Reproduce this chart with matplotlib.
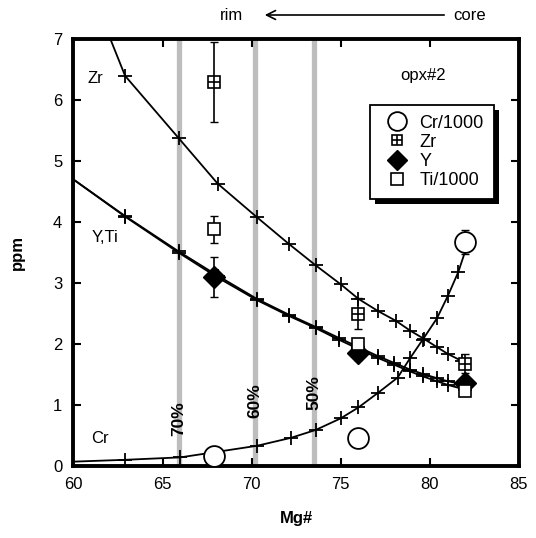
import matplotlib
matplotlib.use("Agg")
import matplotlib.pyplot as plt
from matplotlib.legend_handler import HandlerTuple
from matplotlib.patches import Rectangle

plt.rcParams["font.family"] = ["Liberation Sans", "DejaVu Sans"]

# ---- model curves ----
zr_curve_x = [61.6, 62.9, 65.9, 68.1, 70.3, 72.1, 73.6, 75.0, 76.0, 77.1, 78.1, 78.9, 79.7, 80.4, 81.0, 81.8]
zr_curve_y = [7.35, 6.40, 5.38, 4.63, 4.08, 3.64, 3.29, 2.98, 2.74, 2.54, 2.38, 2.22, 2.08, 1.95, 1.84, 1.72]

y_curve_x = [60.0, 62.9, 65.9, 68.1, 70.3, 72.1, 73.6, 74.9, 76.0, 77.1, 78.0, 78.9, 79.6, 80.4, 81.0, 82.0]
y_curve_y = [4.70, 4.10, 3.52, 3.12, 2.74, 2.48, 2.28, 2.10, 1.95, 1.80, 1.69, 1.58, 1.51, 1.44, 1.39, 1.33]
ti_curve_y = [4.70, 4.09, 3.50, 3.09, 2.72, 2.46, 2.26, 2.07, 1.92, 1.77, 1.66, 1.55, 1.47, 1.39, 1.33, 1.25]

cr_curve_x = [60.0, 62.9, 66.0, 70.3, 72.2, 73.6, 75.0, 76.0, 77.1, 78.2, 78.9, 79.6, 80.4, 81.0, 81.6, 82.1]
cr_curve_y = [0.07, 0.10, 0.14, 0.33, 0.46, 0.59, 0.78, 0.96, 1.20, 1.45, 1.77, 2.07, 2.42, 2.78, 3.18, 3.62]

# ---- measured points ----
mg = [67.9, 76.0, 82.0]
cr_pts = [0.17, 0.45, 3.67]
cr_err = [0.0, 0.0, 0.2]
zr_pts = [6.30, 2.50, 1.68]
zr_err = [0.65, 0.25, 0.16]
y_pts = [3.10, 1.85, 1.36]
y_err = [0.33, 0.12, 0.0]
ti_pts = [3.88, 2.00, 1.23]
ti_err = [0.22, 0.0, 0.0]

# ---- crystallisation-fraction bands ----
band_x = [65.9, 70.2, 73.5]
band_lbl = ["70%", "60%", "50%"]
band_lbl_y = [0.78, 1.07, 1.2]

fig = plt.figure(figsize=(5.36, 5.38), dpi=100)
ax = fig.add_axes([0.137, 0.134, 0.831, 0.793])

for bx, lbl, ly in zip(band_x, band_lbl, band_lbl_y):
    ax.axvline(bx, color="#bdbdbd", lw=3.8, zorder=1)
    ax.text(bx, ly, lbl, rotation=90, ha="center", va="center",
            fontsize=12.5, fontweight="bold", zorder=2)

curve_kw = dict(color="black", lw=1.3, marker="+", markersize=10,
                markeredgewidth=1.3, zorder=3)
ax.plot(zr_curve_x, zr_curve_y, **curve_kw)
ax.plot(y_curve_x, y_curve_y, markevery=list(range(1, len(y_curve_x))), **curve_kw)
ax.plot(y_curve_x, ti_curve_y, markevery=list(range(1, len(y_curve_x))), **curve_kw)
ax.plot(cr_curve_x, cr_curve_y, markevery=list(range(1, len(cr_curve_x))), **curve_kw)

eb_kw = dict(fmt="none", ecolor="black", elinewidth=1.2, capsize=3, zorder=4)
ax.errorbar(mg, zr_pts, yerr=zr_err, **eb_kw)
ax.errorbar(mg, y_pts, yerr=y_err, **eb_kw)
ax.errorbar(mg, ti_pts, yerr=ti_err, **eb_kw)
ax.errorbar(mg, cr_pts, yerr=cr_err, **eb_kw)

h_cr, = ax.plot(mg, cr_pts, "o", ms=15, mfc="white", mec="black", mew=1.3, ls="none", zorder=5)
h_zr_sq, = ax.plot(mg, zr_pts, "s", ms=8, mfc="white", mec="black", mew=1.2, ls="none", zorder=5)
h_zr_pl, = ax.plot(mg, zr_pts, "+", ms=8, mec="black", mew=1.2, ls="none", zorder=6)
h_y, = ax.plot(mg, y_pts, "D", ms=11.5, mfc="black", mec="black", ls="none", zorder=5)
h_ti, = ax.plot(mg, ti_pts, "s", ms=9, mfc="white", mec="black", mew=1.2, ls="none", zorder=6)

ax.text(60.8, 6.35, "Zr", fontsize=12, ha="left", va="center")
ax.text(61.0, 3.75, "Y,Ti", fontsize=12, ha="left", va="center")
ax.text(61.0, 0.45, "Cr", fontsize=12, ha="left", va="center")
ax.text(79.6, 6.4, "opx#2", fontsize=12, ha="center", va="center")

leg = ax.legend([h_cr, (h_zr_sq, h_zr_pl), h_y, h_ti],
                ["Cr/1000", "Zr", "Y", "Ti/1000"],
                handler_map={tuple: HandlerTuple(ndivide=1)},
                loc="upper left", bbox_to_anchor=(0.645, 0.868),
                fontsize=13, fancybox=False, framealpha=1, edgecolor="black",
                handletextpad=0.3, labelspacing=0.12, borderpad=0.55,
                handlelength=1.9, markerscale=0.9)
leg.get_frame().set_linewidth(1.3)
leg.set_zorder(10)

ax.set_xlim(60, 85)
ax.set_ylim(0, 7)
ax.set_xticks([60, 65, 70, 75, 80, 85])
ax.set_yticks(range(0, 8))
ax.tick_params(direction="in", length=6, width=1.5, top=True, right=True,
               labelsize=12, pad=8)
for s in ax.spines.values():
    s.set_linewidth(2.8)

ax.set_xlabel("Mg#", fontsize=12, fontweight="bold", labelpad=14)
ax.set_ylabel("ppm", fontsize=12, fontweight="bold", labelpad=20)

# rim <- core arrow above the plot
fig.text(232 / 536, 1 - 15 / 538, "rim", fontsize=12, ha="center", va="center")
fig.text(470 / 536, 1 - 15 / 538, "core", fontsize=12, ha="center", va="center")
ax.annotate("", xy=(262 / 536, 1 - 15 / 538), xytext=(447 / 536, 1 - 15 / 538),
            xycoords="figure fraction", textcoords="figure fraction",
            arrowprops=dict(arrowstyle="->", color="black", lw=1.2,
                            mutation_scale=16))

# solid drop shadow behind the legend box
fig.canvas.draw()
bb = leg.get_frame().get_window_extent()
shadow = Rectangle((bb.x0 + 5, bb.y0 - 5), bb.width, bb.height, transform=None,
                   facecolor="black", edgecolor="none", zorder=9, clip_on=False)
ax.add_artist(shadow)

fig.savefig("out.png", dpi=100)
